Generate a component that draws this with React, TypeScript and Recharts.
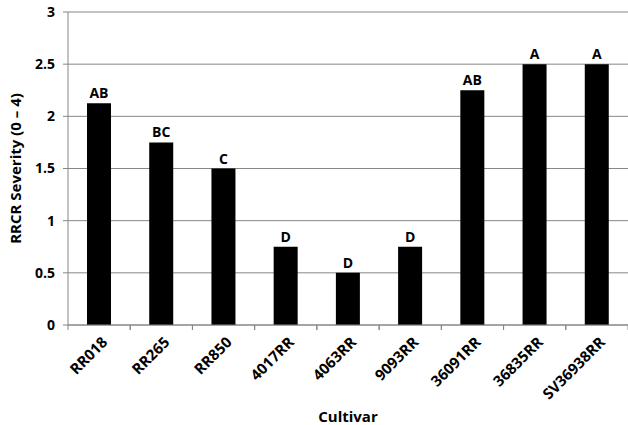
import { BarChart, Bar, XAxis, YAxis, CartesianGrid, LabelList } from "recharts";

const cultivars = ["RR018", "RR265", "RR850", "4017RR", "4063RR", "9093RR", "36091RR", "36835RR", "SV36938RR"];
const severity = [2.125, 1.75, 1.5, 0.75, 0.5, 0.75, 2.25, 2.5, 2.5];
const letters = ["AB", "BC", "C", "D", "D", "D", "AB", "A", "A"];
const yTicks = [0, 0.5, 1, 1.5, 2, 2.5, 3];

const data = cultivars.map((name, i) => ({ name, severity: severity[i], letter: letters[i] }));

const FONT = "'Open Sans', 'Noto Sans', sans-serif";
const AXIS = "#868686";
const WIDTH = 628;
const HEIGHT = 425;
const LEFT = 68;
const STEP = (WIDTH - LEFT) / cultivars.length;

function CultivarTick(props: any) {
  const { x, y, payload } = props;
  return (
    <g>
      <line x1={x - STEP / 2} y1={y - 8} x2={x - STEP / 2} y2={y - 3} stroke={AXIS} />
      <line x1={x + STEP / 2} y1={y - 8} x2={x + STEP / 2} y2={y - 3} stroke={AXIS} />
      <text
        x={x + 5}
        y={y + 6}
        textAnchor="end"
        transform={`rotate(-45, ${x + 5}, ${y + 6})`}
        fontFamily={FONT}
        fontWeight="bold"
        fontSize={15}
        fill="#000"
        dominantBaseline="central"
      >
        {payload.value}
      </text>
    </g>
  );
}

function App() {
  return (
    <div style={{ position: "absolute", left: 0, top: 0, background: "#fff" }}>
      <BarChart
        width={WIDTH}
        height={HEIGHT}
        data={data}
        margin={{ top: 12, right: 0, left: 0, bottom: 0 }}
        barSize={24}
      >
        <CartesianGrid vertical={false} stroke={AXIS} strokeWidth={1} />
        <XAxis
          dataKey="name"
          height={100}
          stroke={AXIS}
          tickLine={false}
          tick={<CultivarTick />}
          interval={0}
          label={{
            value: "Cultivar",
            position: "insideBottom",
            offset: 3,
            fontFamily: FONT,
            fontWeight: "bold",
            fontSize: 15,
            fill: "#000",
          }}
        />
        <YAxis
          width={LEFT}
          domain={[0, 3]}
          ticks={yTicks}
          stroke={AXIS}
          tickSize={5}
          tickMargin={8}
          tick={{ fontFamily: FONT, fontWeight: "bold", fontSize: 14, fill: "#000" }}
          label={{
            value: "RRCR Severity (0 – 4)",
            angle: -90,
            position: "insideLeft",
            offset: 16,
            style: { textAnchor: "middle" },
            fontFamily: FONT,
            fontWeight: "bold",
            fontSize: 15,
            fill: "#000",
          }}
        />
        <Bar dataKey="severity" fill="#000" isAnimationActive={false}>
          <LabelList
            dataKey="letter"
            position="top"
            offset={5}
            fontFamily={FONT}
            fontWeight="bold"
            fontSize={14}
            fill="#000"
          />
        </Bar>
      </BarChart>
    </div>
  );
}

export default App;
